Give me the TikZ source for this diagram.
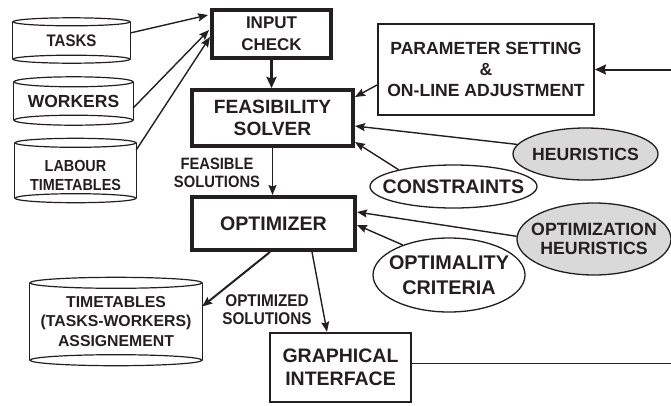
\documentclass[tikz,border=0pt]{standalone}
\usepackage{fontspec}
\setmainfont{Liberation Sans}
\newfontfamily\condfont{Liberation Sans}[FakeStretch=0.9]
\usetikzlibrary{shapes.geometric,arrows.meta,calc}
\definecolor{ink}{HTML}{231F20}
\definecolor{shade}{HTML}{D9D9D9}
\newcommand\fsz[2]{\fontsize{#1}{#2}\selectfont\bfseries}
\newcommand\csz[2]{\condfont\fontsize{#1}{#2}\selectfont\bfseries}
\newcommand\dbdraw[3]{%
  \draw[dbline] (#1.north west) -- (#1.south west) (#1.north east) -- (#1.south east);
  \draw[dbline] (#1.north) ellipse [x radius=#2, y radius=#3];
  \draw[dbline] (#1.south) ellipse [x radius=#2, y radius=#3];
}
\tikzset{
  txt/.style={text=ink, align=center, inner sep=0pt},
  dbnode/.style={txt, rectangle, draw=none},
  dbline/.style={draw=ink, line width=1.2pt},
  heavybox/.style={txt, rectangle, draw=ink, line width=4pt},
  lightbox/.style={txt, rectangle, draw=ink, line width=2pt},
  ell/.style={ellipse, draw=ink, line width=1.3pt, inner sep=0pt},
  arr/.style={draw=ink, line width=1.4pt, -{Stealth[length=10pt,width=8pt,inset=1.5pt]}},
  bigarr/.style={draw=ink, line width=2.4pt, -{Stealth[length=11pt,width=10pt,inset=1.5pt]}},
}
\begin{document}
\begin{tikzpicture}[x=1pt,y=-1pt]
\useasboundingbox (0,0) rectangle (671,405);

% data stores
\node[dbnode, minimum width=117pt, minimum height=37pt, font=\csz{16.7}{20}] (tasks) at (71.5,40.5) {TASKS};
\dbdraw{tasks}{58.5pt}{4pt}
\node[dbnode, minimum width=119pt, minimum height=38pt, font=\fsz{17.5}{21}] (workers) at (73.5,101) {WORKERS};
\dbdraw{workers}{59.5pt}{5pt}
\node[dbnode, minimum width=121pt, minimum height=55pt] (labour) at (75.5,170.5) {};
\node[txt, font=\csz{16}{19.5}] (labourtxt) at (75.5,175.5) {LABOUR\\TIMETABLES};
\dbdraw{labour}{60.5pt}{4.5pt}
\node[dbnode, minimum width=172pt, minimum height=77pt, font=\fsz{15.8}{19.5}] (tt) at (116,321.5) {TIMETABLES\\(TASKS-WORKERS)\\ASSIGNEMENT};
\dbdraw{tt}{86pt}{5.5pt}

% main boxes
\node[heavybox, minimum width=119pt, minimum height=48pt, font=\fsz{17}{22}] (ic) at (271.5,34) {INPUT\\CHECK};
\node[heavybox, minimum width=161pt, minimum height=56pt, font=\fsz{19.2}{21.5}] (fs) at (272.5,118) {FEASIBILITY\\SOLVER};
\node[heavybox, minimum width=163pt, minimum height=53pt, font=\fsz{19.6}{22}] (opt) at (273.5,223.5) {OPTIMIZER};
\node[lightbox, minimum width=216pt, minimum height=91pt, font=\fsz{17.6}{21}] (ps) at (486,69.5) {PARAMETER SETTING\\\&\\ON-LINE ADJUSTMENT};
\node[lightbox, line width=2.5pt, minimum width=141pt, minimum height=69pt, font=\fsz{19.5}{23}] (gi) at (340.5,367.5) {GRAPHICAL\\INTERFACE};

% ellipses
\node[ell, fill=shade, minimum width=145pt, minimum height=52pt, label={[txt, font=\fsz{17.6}{21}]center:HEURISTICS}] (heu) at (585.5,154) {};
\node[ell, minimum width=167pt, minimum height=43pt, label={[txt, font=\fsz{19.6}{23}]center:CONSTRAINTS}] (con) at (453.5,186.5) {};
\node[ell, fill=shade, minimum width=154pt, minimum height=72pt, label={[txt, font=\fsz{17.7}{19}]center:OPTIMIZATION\\HEURISTICS}] (oh) at (594,239) {};
\node[ell, minimum width=152pt, minimum height=74pt, label={[txt, font=\fsz{19.8}{25}]center:OPTIMALITY\\CRITERIA}] (oc) at (449,275) {};

% labels
\node[txt, font=\csz{16.4}{18}] (fsol) at (217,173) {FEASIBLE\\SOLUTIONS};
\node[txt, font=\csz{17}{18}] (osol) at (267,310) {OPTIMIZED\\SOLUTIONS};

% feedback loop end points
\coordinate (rin) at (671,69.5);
\coordinate (rout) at (671,363.5);

% connectors
\draw[arr] ($(tasks.east)+(0,-7.5)$) -- ($(ic.west)+(-2,-19)$);
\draw[arr] ($(workers.east)+(0,7)$) -- ($(ic.west)+(-1,-4)$);
\draw[arr] ($(labour.east)+(0,-20.5)$) -- ($(ic.west)+(0,3)$);
\draw[bigarr] (ic.south) -- (ic.south |- fs.north);
\draw[arr] (fs.south) -- (fs.south |- opt.north);
\draw[arr] ($(ps.west)+(0,15.5)$) -- ($(fs.east)+(0,-21)$);
\draw[arr] (heu.172) -- ($(fs.east)+(0,8)$);
\draw[arr] (con.163) -- ($(fs.east)+(0,24)$);
\draw[arr] (oh.178) -- ($(opt.east)+(0,-11.5)$);
\draw[arr] (oc.147) -- ($(opt.east)+(0,1.5)$);
\draw[arr, line width=2pt] ($(opt.south)+(-3.5,0)$) -- ($(tt.east)+(0,-15)$);
\draw[arr] ($(opt.south)+(38.5,0)$) -- ($(gi.north)+(-13.5,0)$);
\draw[draw=ink, line width=1.4pt] ($(gi.east)+(0,-4)$) -- (rout);
\draw[bigarr, line width=2pt] (rin) -- (ps.east);
\end{tikzpicture}
\end{document}
